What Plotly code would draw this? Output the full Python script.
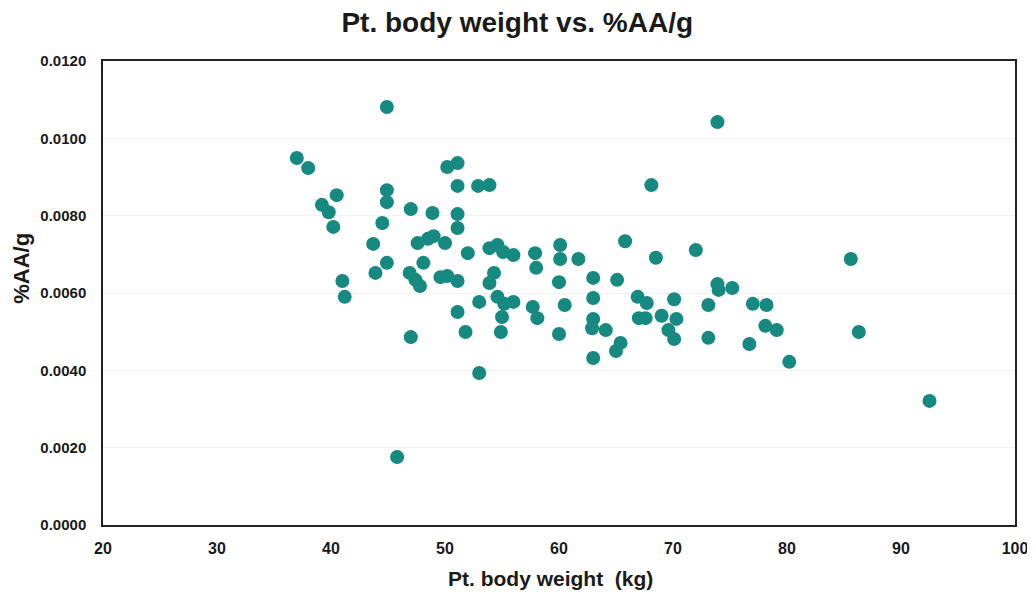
import plotly.graph_objects as go

body_weight_kg = [
    37.0, 38.0, 39.2, 39.8, 40.2, 40.5, 41.0, 41.2, 43.7, 43.9,
    44.5, 44.9, 44.9, 44.9, 44.9, 45.8, 47.0, 46.9, 47.4, 47.8,
    47.0, 47.6, 48.1, 48.5, 49.0, 48.9, 50.0, 49.6, 50.2, 51.1,
    50.2, 51.1, 51.1, 51.1, 51.1, 51.1, 51.8, 52.0, 52.9, 53.9,
    53.0, 53.0, 53.9, 54.6, 55.1, 56.0, 54.3, 53.9, 54.6, 55.2,
    56.0, 55.0, 54.9, 57.9, 58.0, 57.7, 58.1, 60.1, 60.1, 60.0,
    60.0, 60.5, 61.7, 63.0, 63.0, 63.0, 62.9, 64.1, 63.0, 65.1,
    65.4, 65.0, 65.8, 66.9, 67.7, 67.0, 67.6, 68.5, 68.1, 69.0,
    70.3, 69.6, 70.1, 70.1, 72.0, 73.1, 73.1, 73.9, 73.9, 74.0,
    75.2, 77.0, 78.2, 78.1, 79.1, 76.7, 80.2, 85.6, 86.3, 92.5,
]

aa_per_g = [
    0.00949, 0.00923, 0.00828, 0.00809, 0.00771, 0.00853, 0.00631, 0.00590, 0.00727, 0.00652,
    0.00781, 0.01081, 0.00866, 0.00835, 0.00678, 0.00176, 0.00817, 0.00652, 0.00634, 0.00618,
    0.00486, 0.00729, 0.00678, 0.00740, 0.00747, 0.00807, 0.00729, 0.00641, 0.00644, 0.00631,
    0.00926, 0.00936, 0.00877, 0.00804, 0.00768, 0.00551, 0.00499, 0.00703, 0.00877, 0.00879,
    0.00577, 0.00393, 0.00716, 0.00724, 0.00706, 0.00698, 0.00652, 0.00626, 0.00590, 0.00572,
    0.00577, 0.00538, 0.00499, 0.00703, 0.00665, 0.00564, 0.00535, 0.00724, 0.00688, 0.00628,
    0.00494, 0.00569, 0.00688, 0.00639, 0.00587, 0.00533, 0.00509, 0.00504, 0.00432, 0.00634,
    0.00471, 0.00450, 0.00734, 0.00590, 0.00574, 0.00535, 0.00535, 0.00691, 0.00879, 0.00541,
    0.00533, 0.00504, 0.00481, 0.00584, 0.00711, 0.00569, 0.00484, 0.01042, 0.00623, 0.00608,
    0.00613, 0.00572, 0.00569, 0.00515, 0.00504, 0.00468, 0.00422, 0.00688, 0.00499, 0.00321,
]

x_ticks = [20, 30, 40, 50, 60, 70, 80, 90, 100]
y_ticks = [0.0, 0.002, 0.004, 0.006, 0.008, 0.010, 0.012]
y_tick_labels = ["0.0000", "0.0020", "0.0040", "0.0060", "0.0080", "0.0100", "0.0120"]

FONT = "Liberation Sans, Arial, sans-serif"
TEAL = "#168a80"
INK = "#1a1a1a"

fig = go.Figure()
fig.add_trace(go.Scatter(
    x=body_weight_kg,
    y=aa_per_g,
    mode="markers",
    marker=dict(size=14, color=TEAL, line=dict(width=0)),
    showlegend=False,
))

fig.update_layout(
    width=1035,
    height=595,
    margin=dict(l=95, r=28, t=53, b=78),
    paper_bgcolor="white",
    plot_bgcolor="white",
    title=dict(
        text="<b>Pt. body weight vs. %AA/g</b>",
        x=0.492, xanchor="center",
        y=0.976, yanchor="middle",
        font=dict(family=FONT, size=28, color=INK),
    ),
    font=dict(family=FONT, color=INK),
    annotations=[dict(
        text="<b>%AA/g</b>",
        xref="paper", yref="paper",
        x=-0.089, y=0.554,
        xanchor="center", yanchor="middle",
        textangle=-90, showarrow=False,
        font=dict(family=FONT, size=22, color=INK),
    ), dict(
        text="<b>Pt. body weight  (kg)</b>",
        xref="paper", yref="paper",
        x=0.491, y=-0.115,
        xanchor="center", yanchor="middle",
        showarrow=False,
        font=dict(family=FONT, size=21, color=INK),
    )],
)

fig.update_xaxes(
    range=[20, 100],
    tickvals=x_ticks,
    ticktext=[f"<b>{v}</b>" for v in x_ticks],
    tickfont=dict(family=FONT, size=16, color=INK),
    showgrid=False,
    zeroline=False,
    showline=True, linecolor="#222222", linewidth=1.5, mirror=True,
    ticks="", ticklabelstandoff=8,
)

fig.update_yaxes(
    range=[0, 0.012],
    tickvals=y_ticks,
    ticktext=[f"<b>{t}</b>" for t in y_tick_labels],
    tickfont=dict(family=FONT, size=15, color=INK),
    showgrid=True, gridcolor="#f2f2f2", gridwidth=1,
    zeroline=False,
    showline=True, linecolor="#222222", linewidth=1.5, mirror=True,
    ticks="", ticklabelstandoff=12,
)

fig.write_html("out.html")
